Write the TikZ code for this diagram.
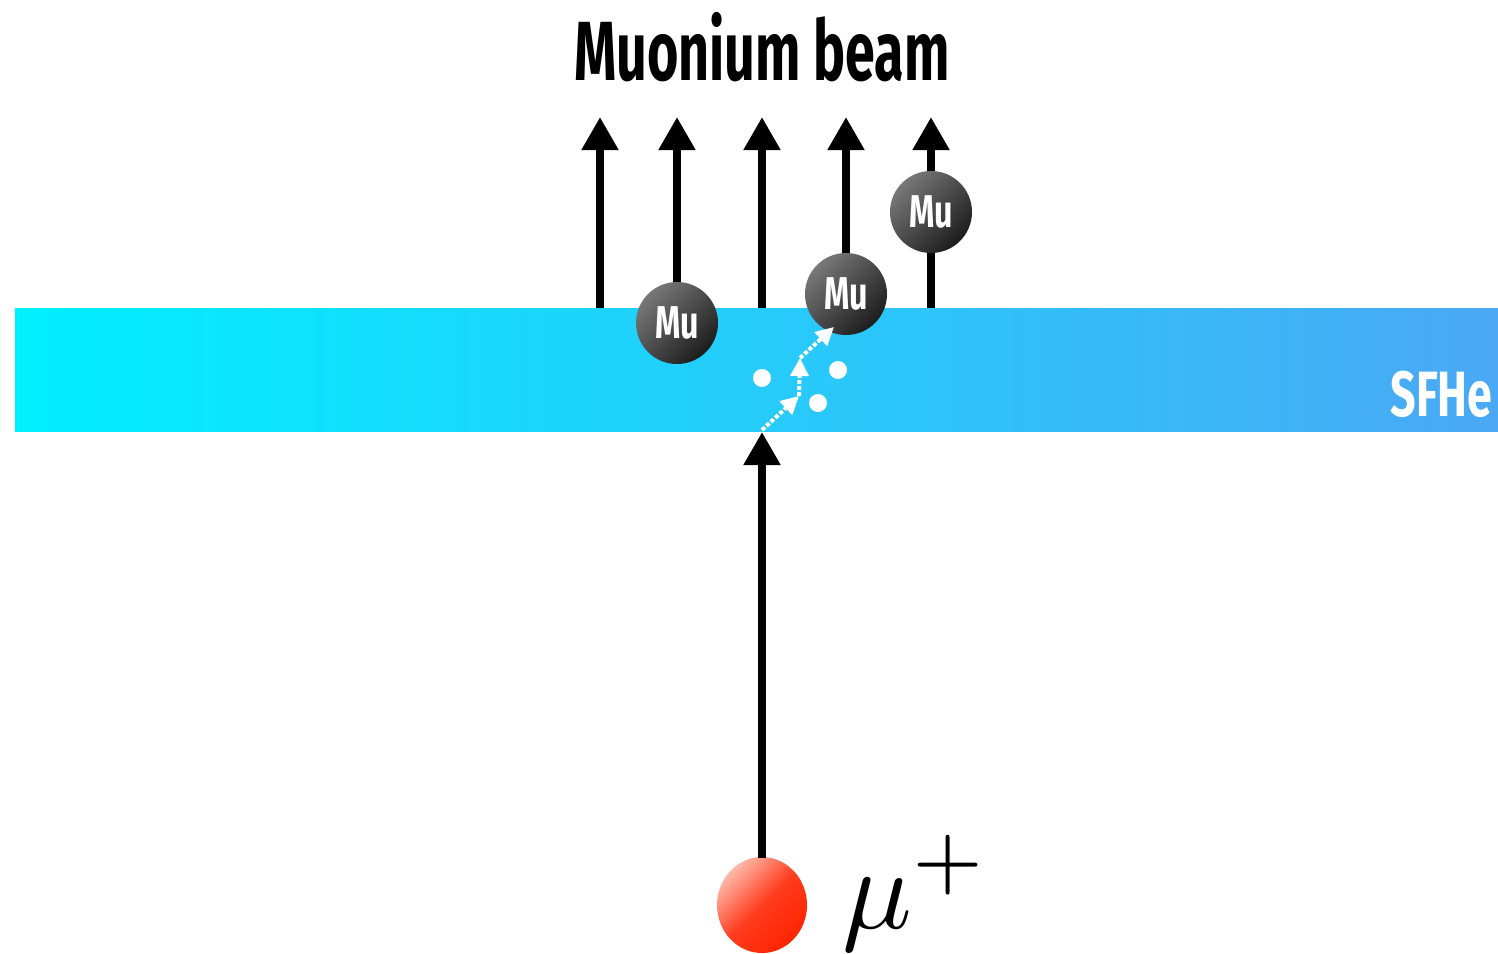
\documentclass[tikz,border=0pt]{standalone}
\usepackage{graphicx}
\usepackage{fontspec}
\newfontfamily\condfont[FakeStretch=0.7]{Fira Sans}
\newfontfamily\titlefont[FakeStretch=0.64]{Fira Sans}
\usetikzlibrary{arrows.meta,shadings}
\definecolor{bandleft}{RGB}{0,240,255}
\definecolor{bandright}{RGB}{74,168,245}
\definecolor{mulight}{RGB}{120,120,120}
\definecolor{mudark}{RGB}{28,28,28}
\definecolor{redlight}{RGB}{255,185,170}
\definecolor{redmid}{RGB}{255,60,30}
\definecolor{reddark}{RGB}{255,36,0}
\tikzset{
  beamarrow/.style={line width=8pt,-{Triangle[width=35pt,length=33pt]}},
  muball/.style={circle,minimum size=82pt,inner sep=0pt,shade,top color=mulight,bottom color=mudark,shading angle=45,text=white,font=\condfont\bfseries\fontsize{46}{46}\selectfont},
  dotpath/.style={white,line width=4pt,dotted,-{Triangle[width=18pt,length=18pt]}},
  whitedot/.style={circle,fill=white,minimum size=18pt,inner sep=0pt},
}
\begin{document}
\begin{tikzpicture}[x=1pt,y=-1pt]
\useasboundingbox (0,0) rectangle (1498,953);
% band
\shade[left color=bandleft,right color=bandright] (15,308) rectangle (1498,431);
\node[anchor=east,text=white,font=\condfont\bfseries\fontsize{64}{64}\selectfont] (sfhe) at (1496,394) {SFHe};
% title
\node[font=\titlefont\bfseries\fontsize{84}{84}\selectfont] (title) at (762,47) {Muonium beam};
% beam coordinates
\foreach \n/\x in {a/600,b/677,c/762,d/846,e/931}{
  \coordinate (base\n) at (\x,308);
  \coordinate (tip\n) at (\x,117);
}
\foreach \n in {a,b,c,d,e}{ \draw[beamarrow] (base\n) -- (tip\n); }
% Mu balls
\node[muball] (mu1) at (677,323) {Mu};
\node[muball] (mu2) at (846,294) {Mu};
\node[muball] (mu3) at (931,212) {Mu};
% white dots
\node[whitedot] (d1) at (762,378) {};
\node[whitedot] (d2) at (838,370) {};
\node[whitedot] (d3) at (818,403) {};
% dotted path
\coordinate (p0) at (762,430);
\coordinate (p1) at (799,396);
\coordinate (p2) at (800,358);
\coordinate (p3) at (834,327);
\draw[dotpath] (p0) -- (p1);
\draw[dotpath] (p1) -- (p2);
\draw[dotpath] (p2) -- (p3);
% muon
\shade[top color=redlight,bottom color=reddark,middle color=redmid,shading angle=45] (762,905) ellipse [x radius=45,y radius=48];
\node[inner sep=0pt] (muon) at (762,905) {};
\coordinate (muontop) at (762,858);
\coordinate (bandbottom) at (762,432);
\draw[beamarrow] (muontop) -- (bandbottom);
\node[anchor=base west,inner sep=0pt] (mulabel) at (842,928) {\scalebox{11.6}{$\mu^{+}$}};
\end{tikzpicture}
\end{document}
